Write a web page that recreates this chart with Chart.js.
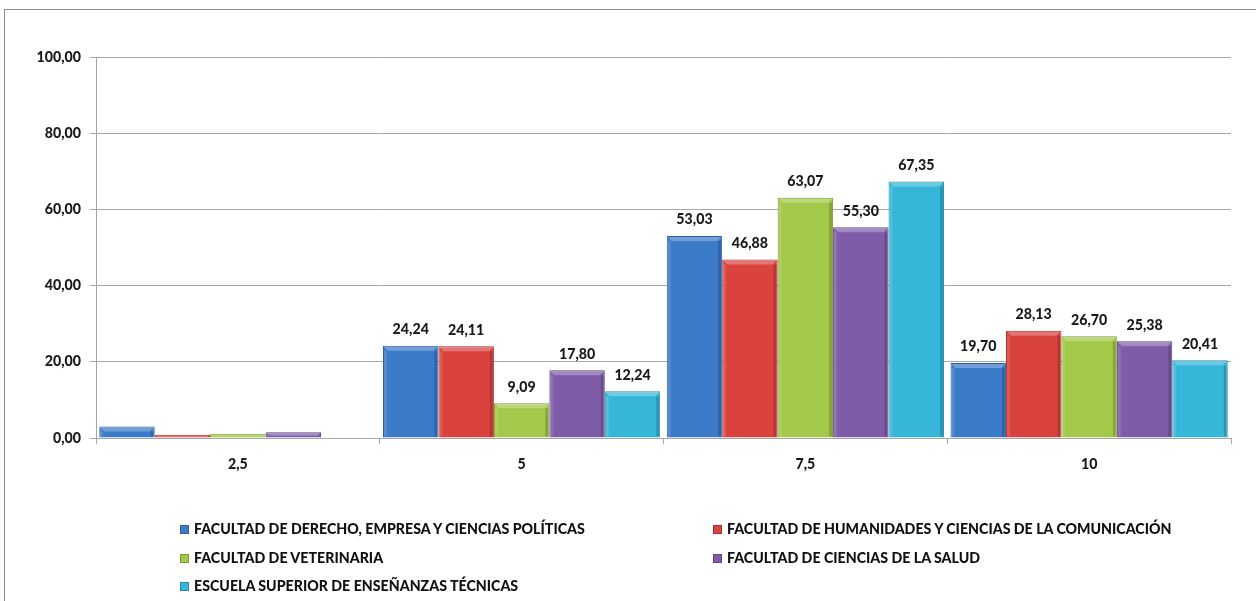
<!DOCTYPE html>
<html>
<head>
<meta charset="utf-8">
<script src="https://cdn.jsdelivr.net/npm/chart.js@4.4.1/dist/chart.umd.min.js"></script>
<style>
    html, body { margin: 0; padding: 0; background: #fff; }
    #wrap { position: relative; width: 1256px; height: 601px; overflow: hidden; }
    #frame { position: absolute; left: 4px; top: 9px; width: 1300px; height: 700px;
             border-left: 1px solid #8c8c8c; border-top: 1px solid #8c8c8c; }
    #chart { position: absolute; left: 0; top: 0; }
    .legend-item { position: absolute; font: 900 14.2px Lato, sans-serif; color: #111;
                   white-space: nowrap; line-height: 16px; }
    .legend-item span { display: inline-block; margin-right: 5px; vertical-align: 0px; }
</style>
</head>
<body>
<div id="wrap">
    <div id="frame"></div>
    <canvas id="chart" width="1256" height="601"></canvas>
</div>
<script>
// Categories (x axis)
const categories = ['2,5', '5', '7,5', '10'];

// Series names
const seriesNames = [
    'FACULTAD DE DERECHO, EMPRESA Y CIENCIAS POLÍTICAS',
    'FACULTAD DE HUMANIDADES Y CIENCIAS DE LA COMUNICACIÓN',
    'FACULTAD DE VETERINARIA',
    'FACULTAD DE CIENCIAS DE LA SALUD',
    'ESCUELA SUPERIOR DE ENSEÑANZAS TÉCNICAS'
];

// Values per series (percent)
const derecho = [3.03, 24.24, 53.03, 19.70];
const humanidades = [0.88, 24.11, 46.88, 28.13];
const veterinaria = [1.14, 9.09, 63.07, 26.70];
const salud = [1.52, 17.80, 55.30, 25.38];
const tecnicas = [0, 12.24, 67.35, 20.41];

// Y axis ticks
const yTicks = [0, 20, 40, 60, 80, 100];

const colors = ['#3c7bc8', '#d9423d', '#a3c94a', '#7f5ca8', '#36b7da'];
const borders = ['#2d5f9e', '#a8302c', '#7d9d33', '#5f4582', '#2a8eab'];

const fontSpec = { family: 'Lato', weight: '900', size: 14.2 };
const fmt = (v) => v.toFixed(2).replace('.', ',');

// Simple bevel look + value labels
const barDecor = {
    id: 'barDecor',
    afterDatasetsDraw(chart) {
        const ctx = chart.ctx;
        ctx.save();
        chart.data.datasets.forEach((ds, di) => {
            const meta = chart.getDatasetMeta(di);
            meta.data.forEach((bar, i) => {
                const v = ds.data[i];
                if (!v) return;
                const left = bar.x - bar.width / 2;
                const right = bar.x + bar.width / 2;
                const top = bar.y;
                const h = bar.base - bar.y;
                const b = Math.min(4, h / 2);
                // top highlight
                ctx.fillStyle = 'rgba(255,255,255,0.28)';
                ctx.beginPath();
                ctx.moveTo(left + 1, top + 1);
                ctx.lineTo(right - 1, top + 1);
                ctx.lineTo(right - 1 - b, top + 1 + b);
                ctx.lineTo(left + 1 + b, top + 1 + b);
                ctx.closePath();
                ctx.fill();
                if (h > 8) {
                    ctx.fillStyle = 'rgba(255,255,255,0.12)';
                    ctx.fillRect(left + 1, top + 1 + b, 3, h - 2 - b);
                    ctx.fillStyle = 'rgba(0,0,0,0.18)';
                    ctx.fillRect(right - 4, top + 1 + b, 3, h - 2 - b);
                }
                // value label
                if (v >= 5) {
                    ctx.fillStyle = '#1a1a1a';
                    ctx.font = '900 14.2px Lato, sans-serif';
                    ctx.textAlign = 'center';
                    ctx.textBaseline = 'bottom';
                    ctx.fillText(fmt(v), bar.x, top - 9);
                }
            });
        });
        ctx.restore();
    }
};

const seriesData = [derecho, humanidades, veterinaria, salud, tecnicas];

new Chart(document.getElementById('chart'), {
    type: 'bar',
    data: {
        labels: categories,
        datasets: seriesData.map((d, i) => ({
            label: seriesNames[i],
            data: d,
            backgroundColor: colors[i],
            borderColor: borders[i],
            borderWidth: 1,
            barPercentage: 1,
            categoryPercentage: 0.977
        }))
    },
    options: {
        responsive: false,
        animation: false,
        events: [],
        layout: { padding: { top: 57, right: 25, left: 0, bottom: 0 } },
        plugins: { legend: { display: false }, tooltip: { enabled: false } },
        scales: {
            x: {
                grid: { offset: true, drawOnChartArea: false, drawTicks: true, tickLength: 6, color: '#a6a6a6' },
                border: { color: '#a6a6a6' },
                ticks: { color: '#1a1a1a', font: fontSpec, padding: 12 },
                afterFit: (s) => { s.height = 163; }
            },
            y: {
                min: 0,
                max: 100,
                afterBuildTicks: (s) => { s.ticks = yTicks.map((v) => ({ value: v })); },
                grid: { color: '#a6a6a6', tickLength: 6 },
                border: { color: '#a6a6a6' },
                ticks: {
                    color: '#1a1a1a',
                    font: fontSpec,
                    padding: 9,
                    callback: (v) => fmt(v)
                },
                afterFit: (s) => { s.width = 96; }
            }
        }
    },
    plugins: [barDecor]
});

// Legend in two columns, built from the series
const legendPos = [[180, 521], [713, 521], [180, 550], [713, 550], [180, 578]];
const wrap = document.getElementById('wrap');
seriesNames.forEach((name, i) => {
    const item = document.createElement('div');
    item.className = 'legend-item';
    item.style.left = legendPos[i][0] + 'px';
    item.style.top = legendPos[i][1] + 'px';
    const sw = document.createElement('span');
    sw.style.background = colors[i];
    sw.style.border = '1px solid ' + borders[i];
    sw.style.width = '7px';
    sw.style.height = '7px';
    item.appendChild(sw);
    item.appendChild(document.createTextNode(name));
    wrap.appendChild(item);
});
</script>
</body>
</html>
